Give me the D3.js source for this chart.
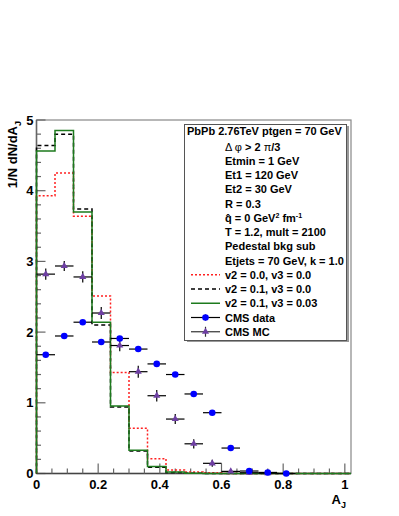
<!DOCTYPE html>
<html>
<head>
<meta charset="utf-8">
<script src="https://cdn.jsdelivr.net/npm/d3@7"></script>
<style>
body { margin: 0; background: #fff; }
text { font-family: "Liberation Sans", Arial, Helvetica, sans-serif; font-weight: bold; fill: #000; }
</style>
</head>
<body>
<div class="chart"></div>
<script>
// histogram bins (width 0.06, 0 .. 1.02)
var binLow = [0, 0.06, 0.12, 0.18, 0.24, 0.30, 0.36, 0.42, 0.48, 0.54, 0.60, 0.66, 0.72, 0.78, 0.84, 0.90, 0.96];
var binWidth = 0.06;
var histV2zeroV3zero = [3.93, 4.25, 3.64, 2.51, 1.43, 0.64, 0.21, 0.05, 0.022, 0.01, 0, 0, 0, 0, 0, 0, 0];
var histV2V3zero     = [4.64, 4.80, 3.74, 2.10, 0.94, 0.32, 0.09, 0.015, 0.005, 0, 0, 0, 0, 0, 0, 0, 0];
var histV2V3         = [4.56, 4.85, 3.70, 2.14, 0.955, 0.33, 0.10, 0.02, 0.005, 0, 0, 0, 0, 0, 0, 0, 0];

// CMS points
var cmsDataX   = [0.03, 0.09, 0.15, 0.21, 0.27, 0.33, 0.39, 0.45, 0.51, 0.57, 0.63, 0.69, 0.75, 0.81];
var cmsDataY   = [1.68, 1.945, 2.14, 1.86, 1.91, 1.76, 1.55, 1.40, 1.125, 0.86, 0.36, 0.035, 0.015, 0.0];
var cmsDataErr = [0.03, 0.03, 0.03, 0.03, 0.03, 0.03, 0.03, 0.03, 0.03, 0.03, 0.02, 0.01, 0.01, 0.005];
var cmsMcX     = [0.03, 0.09, 0.15, 0.21, 0.27, 0.33, 0.39, 0.45, 0.51, 0.57, 0.63, 0.69, 0.75];
var cmsMcY     = [2.82, 2.935, 2.78, 2.27, 1.81, 1.44, 1.10, 0.77, 0.42, 0.144, 0.03, 0.01, 0.004];
var cmsMcErr   = [0.08, 0.07, 0.08, 0.085, 0.08, 0.085, 0.08, 0.07, 0.065, 0.05, 0.03, 0.02, 0.01];

var xTicks = [0, 0.2, 0.4, 0.6, 0.8, 1];
var yTicks = [0, 1, 2, 3, 4, 5];

var width = 399, height = 516;
var svg = d3.select(".chart").append("svg")
    .attr("width", width)
    .attr("height", height);

var x = d3.scaleLinear().domain([0, 1.02]).range([36.5, 351]);
var y = d3.scaleLinear().domain([0, 5]).range([473.5, 120]);

var axisColor = "#666";

// frame
svg.append("rect")
    .attr("x", x(0)).attr("y", y(5))
    .attr("width", x(1.02) - x(0)).attr("height", y(0) - y(5))
    .attr("fill", "none").attr("stroke", "#888").attr("stroke-width", 1.2);

// y axis
var yAxis = svg.append("g").attr("transform", "translate(" + x(0) + ",0)");
yAxis.append("line").attr("y1", y(0)).attr("y2", y(5)).attr("stroke", axisColor).attr("stroke-width", 1.5);
yAxis.selectAll(".minor").data(d3.range(0, 5.001, 0.2)).enter().append("line")
    .attr("x1", 0).attr("x2", function(d) { return Math.abs(d - Math.round(d)) < 1e-6 ? 9 : 4.5; })
    .attr("y1", function(d) { return y(d); }).attr("y2", function(d) { return y(d); })
    .attr("stroke", axisColor).attr("stroke-width", 1.2);
yAxis.selectAll(".lab").data(yTicks).enter().append("text")
    .attr("x", -3).attr("y", function(d) { return y(d) + 4.5; })
    .attr("text-anchor", "end").style("font-size", "13px")
    .text(function(d) { return d; });

// x axis
var xAxis = svg.append("g").attr("transform", "translate(0," + y(0) + ")");
xAxis.append("line").attr("x1", x(0)).attr("x2", x(1.02)).attr("stroke", "#444").attr("stroke-width", 1.5);
xAxis.selectAll(".minor").data(d3.range(0, 1.001, 0.05)).enter().append("line")
    .attr("x1", function(d) { return x(d); }).attr("x2", function(d) { return x(d); })
    .attr("y1", 0).attr("y2", function(d) { return Math.abs(d * 5 - Math.round(d * 5)) < 1e-6 ? -10 : -5; })
    .attr("stroke", axisColor).attr("stroke-width", 1.2);
xAxis.selectAll(".lab").data(xTicks).enter().append("text")
    .attr("x", function(d) { return x(d); }).attr("y", 15.5)
    .attr("text-anchor", "middle").style("font-size", "13px")
    .text(function(d) { return d; });

// axis titles
var xt = svg.append("text").attr("x", 346).attr("y", 504).attr("text-anchor", "end").style("font-size", "13px");
xt.append("tspan").text("A");
xt.append("tspan").attr("dy", 4).style("font-size", "9px").text("J");

var yt = svg.append("text")
    .attr("transform", "translate(17,121) rotate(-90)")
    .attr("text-anchor", "end").style("font-size", "13px");
yt.append("tspan").text("1/N dN/dA");
yt.append("tspan").attr("dy", 4).style("font-size", "9px").text("J");

// histograms
function stepPoints(vals) {
  var pts = [[binLow[0], 0]];
  vals.forEach(function(v, i) {
    pts.push([binLow[i], v]);
    pts.push([binLow[i] + binWidth, v]);
  });
  pts.push([binLow[vals.length - 1] + binWidth, 0]);
  return pts;
}
var line = d3.line().x(function(d) { return x(d[0]); }).y(function(d) { return y(d[1]); });

var hists = [
  { vals: histV2zeroV3zero, color: "#ff2020", dash: "2,2" },
  { vals: histV2V3zero, color: "#000", dash: "4,3" },
  { vals: histV2V3, color: "#1d7a1d", dash: null }
];
hists.forEach(function(h) {
  svg.append("path").attr("d", line(stepPoints(h.vals)))
      .attr("fill", "none").attr("stroke", h.color).attr("stroke-width", 1.5)
      .attr("stroke-dasharray", h.dash);
});

// CMS MC
var mc = svg.selectAll(".mc").data(cmsMcX).enter().append("g").attr("class", "mc");
mc.append("line")
    .attr("x1", function(d) { return x(d - 0.03); }).attr("x2", function(d) { return x(d + 0.03); })
    .attr("y1", function(d, i) { return y(cmsMcY[i]); }).attr("y2", function(d, i) { return y(cmsMcY[i]); })
    .attr("stroke", "#000").attr("stroke-width", 1.2);
mc.append("line")
    .attr("x1", function(d) { return x(d); }).attr("x2", function(d) { return x(d); })
    .attr("y1", function(d, i) { return y(cmsMcY[i] - cmsMcErr[i]); })
    .attr("y2", function(d, i) { return y(cmsMcY[i] + cmsMcErr[i]); })
    .attr("stroke", "#000").attr("stroke-width", 1.2);
mc.append("path")
    .attr("d", d3.symbol().type(d3.symbolTriangle).size(22))
    .attr("transform", function(d, i) { return "translate(" + x(d) + "," + y(cmsMcY[i]) + ")"; })
    .attr("fill", "#6e3fa3");

// CMS data
var dat = svg.selectAll(".dat").data(cmsDataX).enter().append("g").attr("class", "dat");
dat.append("line")
    .attr("x1", function(d) { return x(d - 0.03); }).attr("x2", function(d) { return x(d + 0.03); })
    .attr("y1", function(d, i) { return y(cmsDataY[i]); }).attr("y2", function(d, i) { return y(cmsDataY[i]); })
    .attr("stroke", "#000").attr("stroke-width", 1.2);
dat.append("line")
    .attr("x1", function(d) { return x(d); }).attr("x2", function(d) { return x(d); })
    .attr("y1", function(d, i) { return y(cmsDataY[i] - cmsDataErr[i]); })
    .attr("y2", function(d, i) { return y(cmsDataY[i] + cmsDataErr[i]); })
    .attr("stroke", "#000").attr("stroke-width", 1.2);
dat.append("circle")
    .attr("cx", function(d) { return x(d); })
    .attr("cy", function(d, i) { return y(cmsDataY[i]); })
    .attr("r", 3.3).attr("fill", "#0000ff");

// legend
var lg = svg.append("g");
lg.append("rect").attr("x", 187).attr("y", 126).attr("width", 162).attr("height", 216).attr("fill", "#999");
lg.append("rect").attr("x", 184.5).attr("y", 124.5).attr("width", 162).attr("height", 216)
    .attr("fill", "#fff").attr("stroke", "#555").attr("stroke-width", 1);

lg.append("text").attr("x", 187).attr("y", 134.5).style("font-size", "11px").text("PbPb 2.76TeV ptgen = 70 GeV");

var rowY = function(i) { return 146.5 + i * 14.25; };
var tx = 225;

var r0 = lg.append("text").attr("x", tx).attr("y", rowY(0) + 4).style("font-size", "11px");
r0.append("tspan").style("font-weight", "normal").text("Δ φ");
r0.append("tspan").text(" > 2 ");
r0.append("tspan").style("font-weight", "normal").text("π");
r0.append("tspan").text("/3");

var simpleRows = ["Etmin = 1 GeV", "Et1 = 120 GeV", "Et2 = 30 GeV", "R = 0.3"];
simpleRows.forEach(function(s, k) {
  lg.append("text").attr("x", tx).attr("y", rowY(k + 1) + 4).style("font-size", "11px").text(s);
});

var rq = lg.append("text").attr("x", tx).attr("y", rowY(5) + 4).style("font-size", "11px");
rq.append("tspan").text("q\u0302 = 0 GeV");
rq.append("tspan").attr("dy", -4).style("font-size", "7px").text("2");
rq.append("tspan").attr("dy", 4).text(" fm");
rq.append("tspan").attr("dy", -4).style("font-size", "7px").text("-1");

var moreRows = ["T = 1.2, mult = 2100", "Pedestal bkg sub", "Etjets = 70 GeV, k = 1.0"];
moreRows.forEach(function(s, k) {
  lg.append("text").attr("x", tx).attr("y", rowY(k + 6) + 4).style("font-size", "11px").text(s);
});

var entryLabels = ["v2 = 0.0, v3 = 0.0", "v2 = 0.1, v3 = 0.0", "v2 = 0.1, v3 = 0.03"];
hists.forEach(function(h, k) {
  var yy = rowY(k + 9);
  lg.append("line").attr("x1", 191).attr("x2", 220).attr("y1", yy).attr("y2", yy)
      .attr("stroke", h.color).attr("stroke-width", 1.5).attr("stroke-dasharray", h.dash);
  lg.append("text").attr("x", tx).attr("y", yy + 4).style("font-size", "11px").text(entryLabels[k]);
});

// data entries
var yd = rowY(12);
lg.append("line").attr("x1", 191).attr("x2", 220).attr("y1", yd).attr("y2", yd).attr("stroke", "#000").attr("stroke-width", 1.2);
lg.append("line").attr("x1", 205.5).attr("x2", 205.5).attr("y1", yd - 3).attr("y2", yd + 3).attr("stroke", "#000").attr("stroke-width", 1.2);
lg.append("circle").attr("cx", 205.5).attr("cy", yd).attr("r", 3.3).attr("fill", "#0000ff");
lg.append("text").attr("x", tx).attr("y", yd + 4).style("font-size", "11px").text("CMS data");

var ym = rowY(13);
lg.append("line").attr("x1", 191).attr("x2", 220).attr("y1", ym).attr("y2", ym).attr("stroke", "#333").attr("stroke-width", 1.2);
lg.append("line").attr("x1", 205.5).attr("x2", 205.5).attr("y1", ym - 5).attr("y2", ym + 5).attr("stroke", "#333").attr("stroke-width", 1.2);
lg.append("path").attr("d", d3.symbol().type(d3.symbolTriangle).size(22))
    .attr("transform", "translate(205.5," + ym + ")").attr("fill", "#6e3fa3");
lg.append("text").attr("x", tx).attr("y", ym + 4).style("font-size", "11px").text("CMS MC");
</script>
</body>
</html>
